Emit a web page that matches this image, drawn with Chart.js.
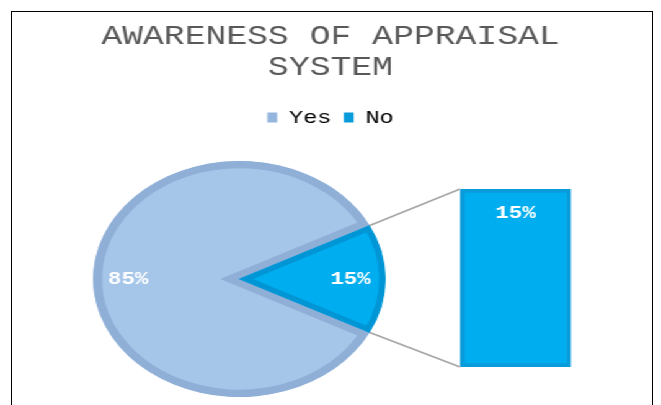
<!DOCTYPE html>
<html>
<head>
<meta charset="utf-8">
<script src="https://cdn.jsdelivr.net/npm/chart.js@4/dist/chart.umd.min.js"></script>
<style>
  html, body { margin: 0; padding: 0; background: #fff; }
  body { width: 661px; height: 405px; overflow: hidden; position: relative; }
  #frame {
    position: absolute; left: 11px; top: 11px;
    width: 642px; height: 440px;
    border: 1px solid #000; box-sizing: border-box;
  }
  /* charts are laid out at 533px wide and widened to the frame */
  #stage {
    position: absolute; left: 0; top: 0;
    width: 533px; height: 430px;
    transform: scaleX(1.2402); transform-origin: 0 0;
  }
  #stage canvas { position: absolute; left: 0; top: 0; width: 533px; height: 430px; }
</style>
</head>
<body>
<div id="frame"></div>
<div id="stage">
  <canvas id="splitChart" width="533" height="430"></canvas>
  <canvas id="pieChart" width="533" height="430"></canvas>
</div>
<script>
// survey answers
const answers = ['Yes', 'No'];
const shares = [85, 15];

// the part split out of the pie into the bar
const splitLabels = ['No'];
const splitShares = [15];

const MONO = "'Courier New', 'Liberation Mono', monospace";
const sliceFill = ['#a6c6e9', '#00aeef'];
const sliceEdge = ['#8fafd7', '#0096d6'];
const swatch = ['#94b5dd', '#0a9bdb'];

const total = shares.reduce((a, b) => a + b, 0);
const splitTotal = splitShares.reduce((a, b) => a + b, 0);
// turn the pie so the "No" slice faces the bar (centred at 3 o'clock)
const pieRotation = 90 - 360 * shares[0] / total - 180 * shares[1] / total;

const barValueLabel = {
  id: 'barValueLabel',
  afterDatasetsDraw(chart) {
    const ctx = chart.ctx;
    const bar = chart.getDatasetMeta(0).data[0];
    ctx.save();
    ctx.font = 'bold 18px ' + MONO;
    ctx.fillStyle = '#ffffff';
    ctx.textAlign = 'center';
    ctx.textBaseline = 'middle';
    ctx.fillText(splitShares[0] + '%', bar.x, bar.y + 24);
    ctx.restore();
  }
};

const splitChart = new Chart(document.getElementById('splitChart'), {
  type: 'bar',
  data: {
    labels: splitLabels,
    datasets: [{
      label: 'No',
      data: splitShares,
      backgroundColor: '#00aeef',
      borderColor: '#0a9bdb',
      borderWidth: 4,
      borderSkipped: false,
      categoryPercentage: 1,
      barPercentage: 1
    }]
  },
  options: {
    responsive: false,
    animation: false,
    devicePixelRatio: 1,
    layout: { padding: { bottom: 63 } },
    plugins: {
      title: {
        display: true,
        text: ['AWARENESS OF APPRAISAL', 'SYSTEM'],
        color: '#595959',
        font: { family: MONO, size: 28, weight: 'normal', lineHeight: '31px' },
        padding: { top: 21, bottom: 15 }
      },
      legend: {
        position: 'top',
        labels: {
          boxWidth: 8,
          boxHeight: 10,
          padding: 10,
          color: '#7f7f7f',
          font: { family: MONO, size: 19 },
          generateLabels: () => answers.map((a, i) => ({
            text: a,
            fillStyle: swatch[i],
            strokeStyle: swatch[i],
            lineWidth: 0,
            hidden: false,
            index: i
          }))
        }
      },
      tooltip: { enabled: false }
    },
    scales: {
      x: { display: false },
      x2: {
        position: 'top',
        grid: { display: false }, border: { display: false }, ticks: { display: false },
        afterFit: s => { s.height = 52; }
      },
      y: {
        min: 0, max: splitTotal,
        grid: { display: false }, border: { display: false }, ticks: { display: false },
        afterFit: s => { s.width = 371; }
      },
      y1: {
        position: 'right',
        grid: { display: false }, border: { display: false }, ticks: { display: false },
        afterFit: s => { s.width = 72.5; }
      }
    }
  },
  plugins: [barValueLabel]
});

const sliceLabels = {
  id: 'sliceLabels',
  afterDatasetsDraw(chart) {
    const ctx = chart.ctx;
    ctx.save();
    ctx.font = 'bold 18px ' + MONO;
    ctx.fillStyle = '#ffffff';
    ctx.textAlign = 'center';
    ctx.textBaseline = 'middle';
    chart.getDatasetMeta(0).data.forEach((arc, i) => {
      const mid = (arc.startAngle + arc.endAngle) / 2;
      const r = arc.outerRadius * 0.76;
      ctx.fillText(shares[i] + '%', arc.x + Math.cos(mid) * r, arc.y + Math.sin(mid) * r);
    });
    ctx.restore();
  }
};

// grey lines from the edges of the "No" slice to the bar corners
const connectors = {
  id: 'connectors',
  afterDraw(chart) {
    const ctx = chart.ctx;
    const arc = chart.getDatasetMeta(0).data[1];
    const bar = splitChart.getDatasetMeta(0).data[0];
    const left = bar.x - bar.width / 2;
    const r = arc.outerRadius;
    ctx.save();
    ctx.strokeStyle = '#a6a6a6';
    ctx.lineWidth = 1.6;
    [[arc.startAngle, bar.y], [arc.endAngle, bar.base]].forEach(([a, yEnd]) => {
      ctx.beginPath();
      ctx.moveTo(arc.x + Math.cos(a) * r, arc.y + Math.sin(a) * r);
      ctx.lineTo(left, yEnd);
      ctx.stroke();
    });
    ctx.restore();
  }
};

new Chart(document.getElementById('pieChart'), {
  type: 'pie',
  data: {
    labels: answers,
    datasets: [{
      data: shares,
      backgroundColor: sliceFill,
      borderColor: sliceEdge,
      borderWidth: [7, 5],
      borderAlign: 'inner',
      borderJoinStyle: 'miter'
    }]
  },
  options: {
    responsive: false,
    animation: false,
    devicePixelRatio: 1,
    rotation: pieRotation,
    layout: { padding: { left: 75, right: 222, top: 161, bottom: 33 } },
    plugins: {
      legend: { display: false },
      title: { display: false },
      tooltip: { enabled: false }
    }
  },
  plugins: [sliceLabels, connectors]
});
</script>
</body>
</html>
